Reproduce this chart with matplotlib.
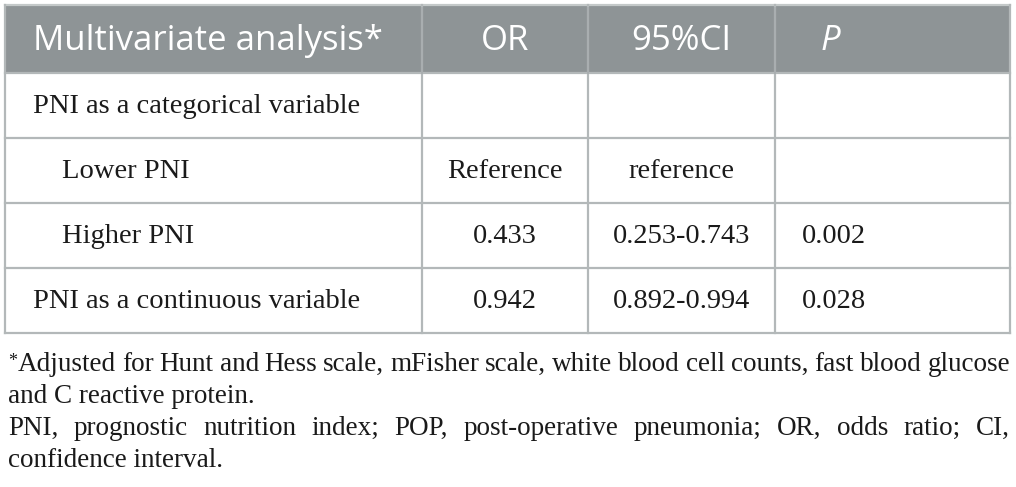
import matplotlib.pyplot as plt

# table content
header = ["Multivariate analysis*", "OR", "95%CI", "P"]
row_labels = ["PNI as a categorical variable", "Lower PNI", "Higher PNI",
              "PNI as a continuous variable"]
row_indent = [False, True, True, False]
or_vals = ["", "Reference", "0.433", "0.942"]
ci_vals = ["", "reference", "0.253-0.743", "0.892-0.994"]
p_vals = ["", "", "0.002", "0.028"]

footnote = [
    ("Adjusted for Hunt and Hess scale, mFisher scale, white blood cell counts, fast blood glucose", True),
    ("and C reactive protein.", False),
    ("PNI, prognostic nutrition index; POP, post-operative pneumonia; OR, odds ratio; CI,", True),
    ("confidence interval.", False),
]

# layout in pixels
col_x = [5, 422, 588, 775, 1010]
row_y = [5, 73, 138, 203, 268, 333]
head_col = "#8e9496"
line_col = "#b3b8b9"
txt_col = "#1a1a1a"
serif = "Liberation Serif"

fig = plt.figure(figsize=(10.16, 4.87), dpi=100)
ax = fig.add_axes([0, 0, 1, 1])
ax.set_xlim(0, 1016)
ax.set_ylim(487, 0)
ax.axis("off")

ax.fill_between([col_x[0], col_x[-1]], row_y[0], row_y[1], color=head_col, lw=0)
# grid
for y in row_y[1:]:
    ax.plot([col_x[0], col_x[-1]], [y, y], color=line_col, lw=1.6)
ax.plot([col_x[0], col_x[-1]], [row_y[0], row_y[0]], color="#c4c9c9", lw=1.6)
for x in col_x:
    ax.plot([x, x], [row_y[0], row_y[-1]], color=line_col, lw=1.6)
for x in col_x[1:-1]:
    ax.plot([x, x], [row_y[0] + 3, row_y[1]], color="#a9aeb0", lw=1.4)

# header text
hfs = 25
hy = (row_y[0] + row_y[1]) / 2 + 2
ax.text(33, hy, header[0], color="white", fontsize=hfs, family="Open Sans",
        va="center", ha="left")
ax.text((col_x[1] + col_x[2]) / 2, hy, header[1], color="white", fontsize=hfs,
        family="Open Sans", va="center", ha="center")
ax.text((col_x[2] + col_x[3]) / 2, hy, header[2], color="white", fontsize=hfs,
        family="Open Sans", va="center", ha="center")
ax.text(821, hy, header[3], color="white", fontsize=hfs, family="Open Sans",
        style="italic", va="center", ha="left")

# body
bfs = 20.5
for i in range(len(row_labels)):
    cy = (row_y[i + 1] + row_y[i + 2]) / 2 + 1
    lx = 62 if row_indent[i] else 33
    ax.text(lx, cy, row_labels[i], fontsize=bfs, family=serif, va="center",
            ha="left", color=txt_col)
    ax.text((col_x[1] + col_x[2]) / 2, cy, or_vals[i], fontsize=bfs, family=serif,
            va="center", ha="center", color=txt_col)
    ax.text((col_x[2] + col_x[3]) / 2, cy, ci_vals[i], fontsize=bfs, family=serif,
            va="center", ha="center", color=txt_col)
    ax.text(802, cy, p_vals[i], fontsize=bfs, family=serif, va="center",
            ha="left", color=txt_col)

# footnote, justified lines placed word by word
fig.canvas.draw()
r = fig.canvas.get_renderer()
left, right = 8, 1010
fs = 19.5
star = ax.text(left, 366, "*", fontsize=13, family=serif, va="baseline",
               ha="left", color=txt_col)
star_w = star.get_window_extent(r).width + 1
for k, (line, just) in enumerate(footnote):
    y = 371 + k * 32
    x0 = left + (star_w if k == 0 else 0)
    words = line.split(" ")
    if not just:
        ax.text(x0, y, line, fontsize=fs, family=serif, va="baseline",
                ha="left", color=txt_col)
        continue
    arts = [ax.text(0, y, w, fontsize=fs, family=serif, va="baseline",
                    ha="left", color=txt_col) for w in words]
    widths = [a.get_window_extent(r).width for a in arts]
    gap = (right - x0 - sum(widths)) / (len(words) - 1)
    x = x0
    for a, w in zip(arts, widths):
        a.set_x(x)
        x += w + gap

fig.savefig("out.png", dpi=100)
